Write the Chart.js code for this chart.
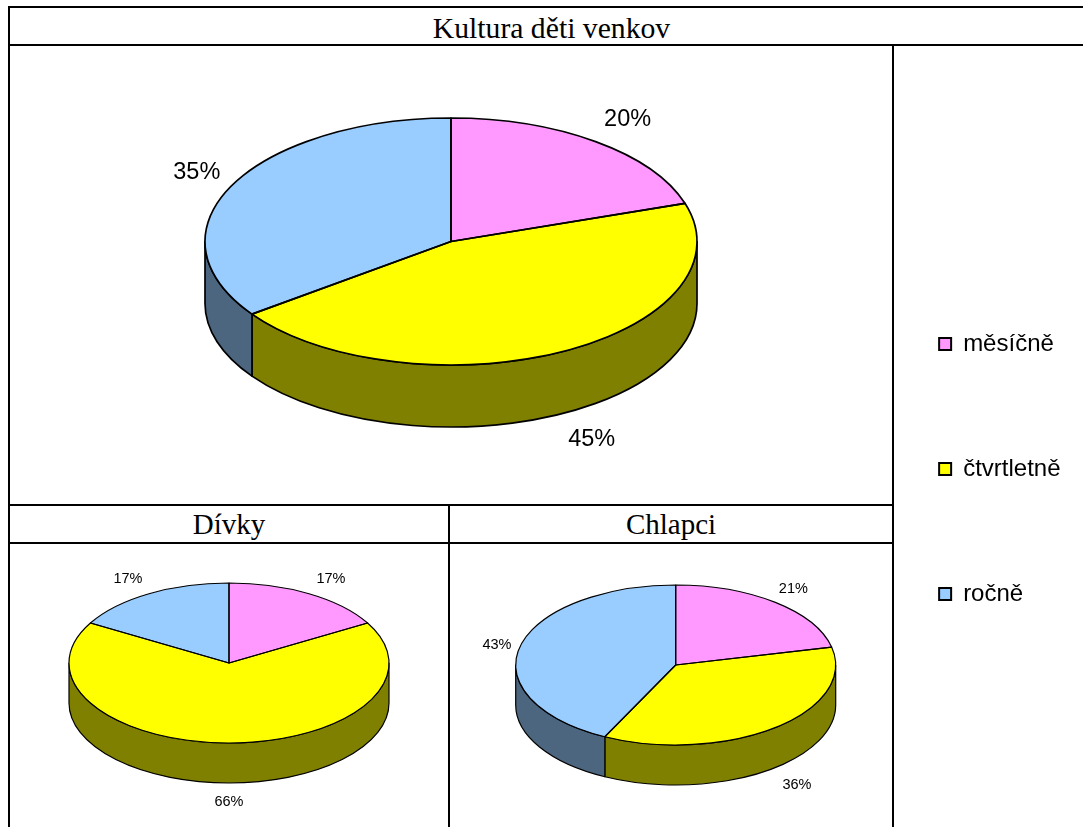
<!DOCTYPE html>
<html lang="cs">
<head>
<meta charset="utf-8">
<title>Kultura děti venkov</title>
<script src="https://cdn.jsdelivr.net/npm/chart.js@4"></script>
<style>
  html, body { margin: 0; padding: 0; background: #fff; }
  #page { position: relative; width: 1083px; height: 827px; overflow: hidden; background: #fff; }
  canvas { position: absolute; left: 0; top: 0; }
  .rule { position: absolute; background: #000; }
  .head { position: absolute; font-family: "Liberation Serif", serif; color: #000; text-align: center; line-height: 36px; height: 36px; }
</style>
</head>
<body>
<div id="page">
  <div class="rule" style="left:8px;top:6px;width:1075px;height:2px"></div>
  <div class="rule" style="left:8px;top:44px;width:1075px;height:2px"></div>
  <div class="rule" style="left:8px;top:504px;width:886px;height:2px"></div>
  <div class="rule" style="left:8px;top:542px;width:886px;height:2px"></div>
  <div class="rule" style="left:8px;top:6px;width:2px;height:821px"></div>
  <div class="rule" style="left:892px;top:44px;width:2px;height:783px"></div>
  <div class="rule" style="left:448px;top:504px;width:2px;height:323px"></div>
  <div class="head" style="left:10px;top:10px;width:1083px;font-size:29.7px" id="t0"></div>
  <div class="head" style="left:10px;top:506px;width:438px;font-size:29px" id="t1"></div>
  <div class="head" style="left:450px;top:506px;width:442px;font-size:29px" id="t2"></div>
  <canvas id="main" width="1083" height="827"></canvas>
  <canvas id="girls" width="1083" height="827"></canvas>
  <canvas id="boys" width="1083" height="827"></canvas>
</div>
<script>
const categories = ["měsíčně", "čtvrtletně", "ročně"];
const titles = ["Kultura děti venkov", "Dívky", "Chlapci"];
const kulturaValues = [20, 45, 35];
const divkyValues = [16.6, 66.4, 16.6];
const chlapciValues = [21.4, 35.9, 42.7];

const faceColors = ["#FF99FF", "#FFFF00", "#99CCFF"];
const sideColors = ["#804D80", "#808000", "#4D6680"];

document.getElementById("t0").textContent = titles[0];
document.getElementById("t1").textContent = titles[1];
document.getElementById("t2").textContent = titles[2];

function pie3d(look) {
  const arcsOf = chart => chart.getDatasetMeta(0).data.map(a =>
    a.getProps(["x", "y", "startAngle", "endAngle", "outerRadius"], true));
  return {
    id: "pie3d",
    beforeDatasetsDraw(chart) {
      const ctx = chart.ctx;
      const { cx, cy, rx, ry, depth, line } = look;
      ctx.save();
      ctx.lineWidth = line;
      ctx.strokeStyle = "#000";
      ctx.lineJoin = "round";
      arcsOf(chart).forEach((a, i) => {
        const s = Math.max(a.startAngle, 0);
        const e = Math.min(a.endAngle, Math.PI);
        if (e <= s) return;
        ctx.beginPath();
        ctx.ellipse(cx, cy, rx, ry, 0, s, e);
        ctx.lineTo(cx + rx * Math.cos(e), cy + depth + ry * Math.sin(e));
        ctx.ellipse(cx, cy + depth, rx, ry, 0, e, s, true);
        ctx.closePath();
        ctx.fillStyle = sideColors[i];
        ctx.fill();
        ctx.stroke();
      });
      ctx.restore();
      const first = arcsOf(chart)[0];
      ctx.save();
      ctx.translate(cx, cy);
      ctx.scale(rx / first.outerRadius, ry / first.outerRadius);
      ctx.translate(-first.x, -first.y);
    },
    afterDatasetsDraw(chart) {
      const ctx = chart.ctx;
      ctx.restore();
      const { cx, cy, rx, ry, depth, line, font, offsets } = look;
      const values = chart.data.datasets[0].data;
      ctx.save();
      ctx.lineWidth = line;
      ctx.strokeStyle = "#000";
      ctx.lineJoin = "round";
      arcsOf(chart).forEach((a, i) => {
        ctx.beginPath();
        ctx.moveTo(cx, cy);
        ctx.ellipse(cx, cy, rx, ry, 0, a.startAngle, a.endAngle);
        ctx.closePath();
        ctx.stroke();
      });
      ctx.fillStyle = "#000";
      ctx.font = font + "px 'Liberation Sans', sans-serif";
      ctx.textAlign = "center";
      ctx.textBaseline = "middle";
      arcsOf(chart).forEach((a, i) => {
        const mid = (a.startAngle + a.endAngle) / 2;
        const sy = Math.sin(mid);
        const x = cx + rx * Math.cos(mid) + offsets[i][0];
        const y = cy + ry * sy + (sy > 0 ? depth : 0) + offsets[i][1];
        ctx.fillText(Math.round(values[i]) + "%", x, y);
      });
      ctx.restore();
    }
  };
}

function makeChart(id, values, look, legendOn) {
  return new Chart(document.getElementById(id), {
    type: "pie",
    data: {
      labels: categories,
      datasets: [{ data: values, backgroundColor: faceColors, borderWidth: 0, clip: false }]
    },
    options: {
      responsive: false,
      animation: false,
      events: [],
      layout: { padding: legendOn ? { top: 111, right: 12.5 } : 0 },
      plugins: {
        title: { display: false },
        tooltip: { enabled: false },
        legend: {
          display: legendOn,
          position: "right",
          labels: {
            boxWidth: 12,
            boxHeight: 12,
            padding: 101,
            color: "#000",
            font: { family: "'Liberation Sans', sans-serif", size: 24 },
            generateLabels(chart) {
              return chart.data.labels.map((text, i) => ({
                text,
                fillStyle: faceColors[i],
                strokeStyle: "#000",
                lineWidth: 2,
                hidden: false,
                index: i
              }));
            }
          }
        }
      }
    },
    plugins: [pie3d(look)]
  });
}

makeChart("main", kulturaValues, {
  cx: 451, cy: 241.5, rx: 246, ry: 123.5, depth: 62, line: 1.7, font: 23.5,
  offsets: [[32, -22], [29, 26], [-35, -13]]
}, true);
makeChart("girls", divkyValues, {
  cx: 229, cy: 663, rx: 160, ry: 80, depth: 40, line: 1.2, font: 14.5,
  offsets: [[22, -15], [0, 19], [-21, -15]]
}, false);
makeChart("boys", chlapciValues, {
  cx: 675.7, cy: 665, rx: 160, ry: 80, depth: 40, line: 1.2, font: 14.5,
  offsets: [[18, -13], [22, 17], [-23, -2]]
}, false);
</script>
</body>
</html>
